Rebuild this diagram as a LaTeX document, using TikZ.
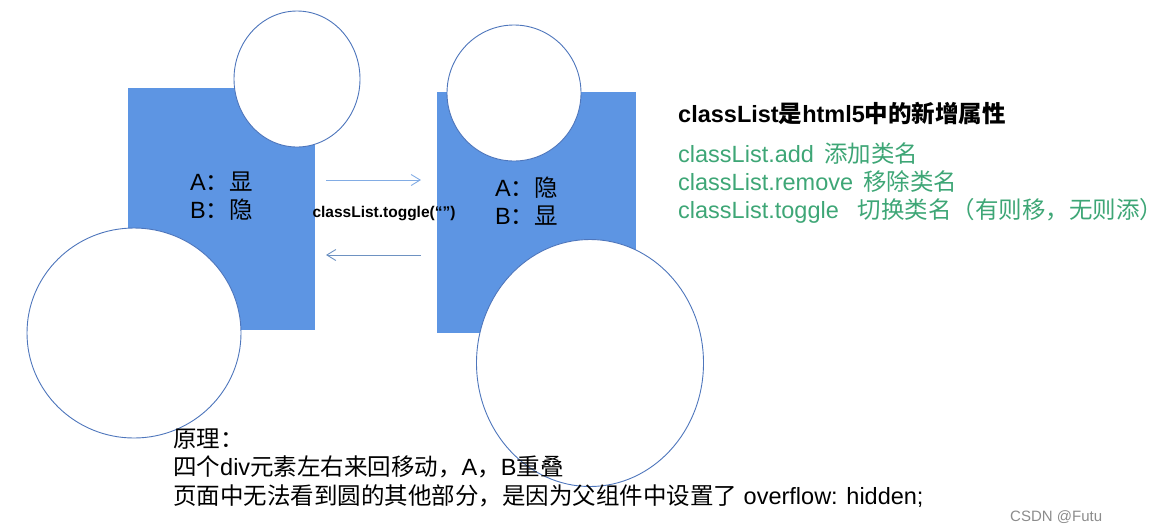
\documentclass[tikz,border=0pt]{standalone}
\usepackage{fontspec}
\setmainfont{Liberation Sans}
\newfontfamily\cjk{Noto Sans CJK SC}
\usepackage{tikz}
\usetikzlibrary{positioning}
\usetikzlibrary{shapes.geometric}
\usetikzlibrary{arrows.meta}
\definecolor{divblue}{RGB}{93,149,227}
\definecolor{ringblue}{RGB}{78,118,188}
\definecolor{arrowblue}{RGB}{130,172,228}
\definecolor{notegreen}{RGB}{62,166,118}
\newcommand\zh[1]{{\cjk #1}}
\tikzset{
	divbox/.style={
		fill=divblue, draw=none, inner sep=0pt
	},
	ball/.style={
		ellipse, fill=white, draw=ringblue, line width=0.9pt, inner sep=0pt
	},
	swap/.style={
		draw=arrowblue, line width=0.9pt, -{Straight Barb[length=9pt,width=11pt]}
	},
	every note/.style={
		anchor=base west, inner sep=0pt, font=\fontsize{23.5}{28}\selectfont
	},
	greennote/.style={
		every note, text=notegreen
	}
}

\begin{document}
\begin{tikzpicture}[x=1pt,y=-1pt]
	\useasboundingbox (0,0) rectangle (1164,531);

	% the two parent divs
	\node[divbox, minimum width=187, minimum height=242] (boxL) at (221.5,209) {};
	\node[divbox, minimum width=199, minimum height=241] (boxR) at (536.5,212.5) {};

	% the four circles
	\node[ball, minimum width=126, minimum height=136] (ballLT) at (297,79) {};
	\node[ball, minimum width=214, minimum height=210] (ballLB) at (134,333) {};
	\node[ball, minimum width=134, minimum height=136] (ballRT) at (514,93) {};
	\node[ball, minimum width=227, minimum height=247] (ballRB) at (590,363) {};

	\node[every note] (stateLA) at (190,190) {A\zh{：显}};
	\node[every note] (stateLB) at (190,218) {B\zh{：隐}};
	\node[every note] (stateRA) at (495,196) {A\zh{：隐}};
	\node[every note] (stateRB) at (495,224) {B\zh{：显}};

	\coordinate (goL) at (326,180);
	\coordinate (goR) at (421,180);
	\coordinate (backR) at (421,255);
	\coordinate (backL) at (326,255);
	\draw[swap] (goL) -- (goR);
	\draw[swap, draw=arrowblue!85!black] (backR) -- (backL);
	\node[anchor=base, inner sep=0pt, font=\fontsize{15.5}{18}\selectfont\bfseries] (toggle) at (384,217) {classList.toggle(“”)};

	% notes on the right
	\node[every note, font=\fontsize{23.5}{28}\selectfont\bfseries] (title) at (678,122) {classList\zh{是}html5\zh{中的新增属性}};
	\node[greennote] (add) at (678,162) {classList.add\hspace{10pt}\zh{添加类名}};
	\node[greennote] (remove) at (678,190) {classList.remove\hspace{10pt}\zh{移除类名}};
	\node[greennote] (tog) at (678,218) {classList.toggle\hspace{19pt}\zh{切换类名（有则移，无则添）}};

	% notes below
	\node[every note] (why) at (173,447) {\zh{原理：}};
	\node[every note] (move) at (173,475) {\zh{四个}div\zh{元素左右来回移动，}A\zh{，}B\zh{重叠}};
	\node[every note] (hide) at (173,504) {\zh{页面中无法看到圆的其他部分，是因为父组件中设置了} overflow: hidden;};

	\node[anchor=base west, inner sep=0pt, text=black!45, font=\fontsize{15}{18}\selectfont] (mark) at (1010,521) {CSDN @Futu};
\end{tikzpicture}
\end{document}
